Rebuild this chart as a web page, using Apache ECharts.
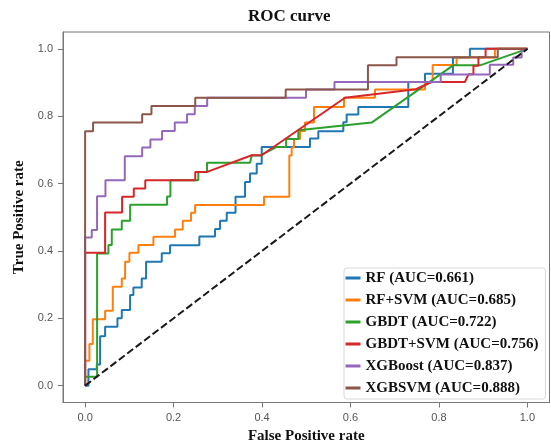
<!DOCTYPE html>
<html>
<head>
<meta charset="utf-8">
<script src="https://cdn.jsdelivr.net/npm/echarts@6/dist/echarts.min.js"></script>
<style>
  html, body { margin: 0; padding: 0; background: #fff; }
  #chart { width: 551px; height: 447px; }
</style>
</head>
<body>
<div id="chart"></div>
<script>
// ROC curve points [false positive rate, true positive rate] for each model
const rf = [[0,0],[0.0075,0],[0.0075,0.0486],[0.0264,0.0486],[0.0264,0.063],[0.0339,0.063],[0.0339,0.147],[0.0452,0.147],[0.0452,0.175],[0.0731,0.175],[0.0731,0.2],[0.0829,0.2],[0.0829,0.2245],[0.1017,0.2245],[0.1017,0.269],[0.1092,0.269],[0.1092,0.2918],[0.128,0.2918],[0.128,0.3185],[0.1378,0.3185],[0.1378,0.368],[0.1733,0.368],[0.1733,0.393],[0.1921,0.393],[0.1921,0.417],[0.2583,0.417],[0.2583,0.4425],[0.2938,0.4425],[0.2938,0.4654],[0.3051,0.4654],[0.3051,0.4893],[0.3202,0.4893],[0.3202,0.513],[0.3401,0.513],[0.3401,0.5605],[0.3616,0.5605],[0.3616,0.605],[0.3729,0.605],[0.3729,0.63],[0.388,0.63],[0.388,0.659],[0.3993,0.659],[0.3993,0.7088],[0.5085,0.7088],[0.5085,0.7336],[0.5273,0.7336],[0.5273,0.7553],[0.5838,0.7553],[0.5838,0.782],[0.5913,0.782],[0.5913,0.8054],[0.6177,0.8054],[0.6177,0.8274],[0.7307,0.8274],[0.7307,0.9015],[0.7684,0.9015],[0.7684,0.926],[0.8316,0.926],[0.8316,0.974],[0.87,0.974],[0.87,1],[1,1]];

const rfSvm = [[0,0],[0,0.0741],[0.0097,0.0741],[0.0097,0.1237],[0.0174,0.1237],[0.0174,0.1969],[0.0452,0.1969],[0.0452,0.2224],[0.0626,0.2224],[0.0626,0.2936],[0.0829,0.2936],[0.0829,0.3185],[0.0904,0.3185],[0.0904,0.368],[0.1002,0.368],[0.1002,0.3944],[0.1205,0.3944],[0.1205,0.4173],[0.1544,0.4173],[0.1544,0.442],[0.2034,0.442],[0.2034,0.4638],[0.2208,0.4638],[0.2208,0.4893],[0.2395,0.4893],[0.2395,0.513],[0.2486,0.513],[0.2486,0.536],[0.4045,0.536],[0.4045,0.5605],[0.4617,0.5605],[0.4617,0.683],[0.467,0.683],[0.467,0.707],[0.4723,0.707],[0.4723,0.732],[0.4859,0.732],[0.4859,0.756],[0.4972,0.756],[0.4972,0.781],[0.5175,0.781],[0.5175,0.8274],[0.5853,0.8274],[0.5853,0.8547],[0.6554,0.8547],[0.6554,0.879],[0.7684,0.879],[0.7684,0.9015],[0.7858,0.9015],[0.7858,0.952],[0.84,0.952],[0.84,0.974],[0.9266,0.974],[0.9266,1],[1,1]];

const gbdt = [[0,0],[0,0.0267],[0.0271,0.0267],[0.0271,0.3926],[0.0527,0.3926],[0.0527,0.4175],[0.0603,0.4175],[0.0603,0.4638],[0.0829,0.4638],[0.0829,0.4899],[0.1018,0.4899],[0.1018,0.5368],[0.1853,0.5368],[0.1853,0.5617],[0.1928,0.5617],[0.1928,0.61],[0.256,0.61],[0.256,0.6346],[0.2757,0.6346],[0.2757,0.662],[0.3729,0.662],[0.3767,0.683],[0.3955,0.683],[0.4332,0.7088],[0.4545,0.7088],[0.4545,0.7325],[0.4821,0.7325],[0.4821,0.7583],[0.6478,0.781],[0.8321,0.951],[0.8927,0.951],[1,1]];

const gbdtSvm = [[0,0],[0,0.3944],[0.0452,0.3944],[0.0452,0.514],[0.0836,0.514],[0.0836,0.5605],[0.11,0.5605],[0.11,0.5854],[0.136,0.5854],[0.136,0.61],[0.249,0.61],[0.249,0.6346],[0.276,0.6346],[0.3767,0.684],[0.399,0.684],[0.5876,0.8547],[0.748,0.88],[0.7835,0.9015],[0.8588,0.9015],[0.8668,0.9244],[0.878,0.9244],[0.878,0.95],[0.8893,0.95],[0.8893,0.975],[0.9055,0.975],[0.9055,1],[1,1]];

const xgboost = [[0,0],[0,0.44],[0.015,0.44],[0.015,0.462],[0.027,0.462],[0.027,0.5626],[0.046,0.5626],[0.046,0.61],[0.0897,0.61],[0.0897,0.681],[0.129,0.681],[0.129,0.707],[0.1476,0.707],[0.1476,0.731],[0.174,0.731],[0.174,0.756],[0.2027,0.756],[0.2027,0.781],[0.2305,0.781],[0.2305,0.806],[0.248,0.806],[0.248,0.83],[0.276,0.83],[0.276,0.855],[0.4994,0.855],[0.4994,0.879],[0.5638,0.879],[0.5638,0.9015],[0.804,0.9015],[0.804,0.9235],[0.915,0.9235],[0.915,0.953],[0.968,0.953],[0.968,0.974],[0.987,0.974],[0.987,0.993],[1,1]];

const xgbSvm = [[0,0],[0,0.7553],[0.018,0.7553],[0.018,0.781],[0.129,0.781],[0.129,0.806],[0.15,0.806],[0.15,0.83],[0.249,0.83],[0.249,0.855],[0.4535,0.855],[0.4535,0.879],[0.6395,0.879],[0.6395,0.951],[0.704,0.951],[0.704,0.975],[0.933,0.975],[0.933,1],[1,1]];

const chance = [[0,0],[1,1]];

const modelNames = ['RF (AUC=0.661)', 'RF+SVM (AUC=0.685)', 'GBDT (AUC=0.722)', 'GBDT+SVM (AUC=0.756)', 'XGBoost (AUC=0.837)', 'XGBSVM (AUC=0.888)'];
const modelCurves = [rf, rfSvm, gbdt, gbdtSvm, xgboost, xgbSvm];
const modelColors = ['#1f77b4', '#ff7f0e', '#2ca02c', '#d62728', '#9467bd', '#8c564b'];

const tickValues = [0, 0.2, 0.4, 0.6, 0.8, 1.0];

const serifBold = { fontFamily: 'Liberation Serif', fontWeight: 'bold', color: '#111' };
const frameColor = '#777';

function valueAxis(name, extra) {
  return Object.assign({
    type: 'value',
    min: -0.05,
    max: 1.05,
    name: name,
    nameLocation: 'middle',
    nameTextStyle: Object.assign({ fontSize: 15 }, serifBold),
    axisLine: { show: true, onZero: false, lineStyle: { color: frameColor, width: 1 } },
    axisTick: { show: true, inside: false, length: 5, customValues: tickValues, lineStyle: { color: frameColor } },
    axisLabel: {
      customValues: tickValues,
      formatter: v => v.toFixed(1),
      fontFamily: 'Liberation Sans',
      fontSize: 11,
      color: '#555',
      margin: 10
    },
    splitLine: { show: false }
  }, extra);
}

const series = modelCurves.map((pts, i) => ({
  name: modelNames[i],
  type: 'line',
  data: pts,
  showSymbol: false,
  symbol: 'none',
  color: modelColors[i],
  lineStyle: { width: 2, color: modelColors[i] },
  emphasis: { disabled: true }
}));

series.push({
  name: 'chance',
  type: 'line',
  data: chance,
  showSymbol: false,
  symbol: 'none',
  lineStyle: { width: 2, color: '#1a1a1a', type: [7.4, 3.2] },
  emphasis: { disabled: true }
});

const chart = echarts.init(document.getElementById('chart'), null, { renderer: 'canvas' });
chart.setOption({
  animation: false,
  backgroundColor: '#fff',
  title: {
    text: 'ROC curve',
    left: 248,
    top: 8,
    padding: 0,
    textStyle: Object.assign({ fontSize: 17 }, serifBold)
  },
  grid: {
    left: 63,
    right: 1.5,
    top: 32,
    bottom: 44.5,
    containLabel: false,
    outerBoundsMode: 'none',
    show: true,
    borderColor: frameColor,
    borderWidth: 1,
    backgroundColor: 'transparent'
  },
  xAxis: valueAxis('False Positive rate', { nameGap: 25 }),
  yAxis: valueAxis('True Positive rate', { nameGap: 22 }),
  legend: {
    data: modelNames,
    orient: 'vertical',
    left: 344,
    top: 268,
    icon: 'rect',
    itemWidth: 15,
    itemHeight: 3,
    itemGap: 6,
    selectedMode: false,
    padding: [2, 7, 3, 1.5],
    backgroundColor: '#fff',
    borderColor: '#d9d9d9',
    borderWidth: 1,
    borderRadius: 3,
    textStyle: Object.assign({ fontSize: 15, lineHeight: 16 }, serifBold)
  },
  series: series
});
</script>
</body>
</html>
